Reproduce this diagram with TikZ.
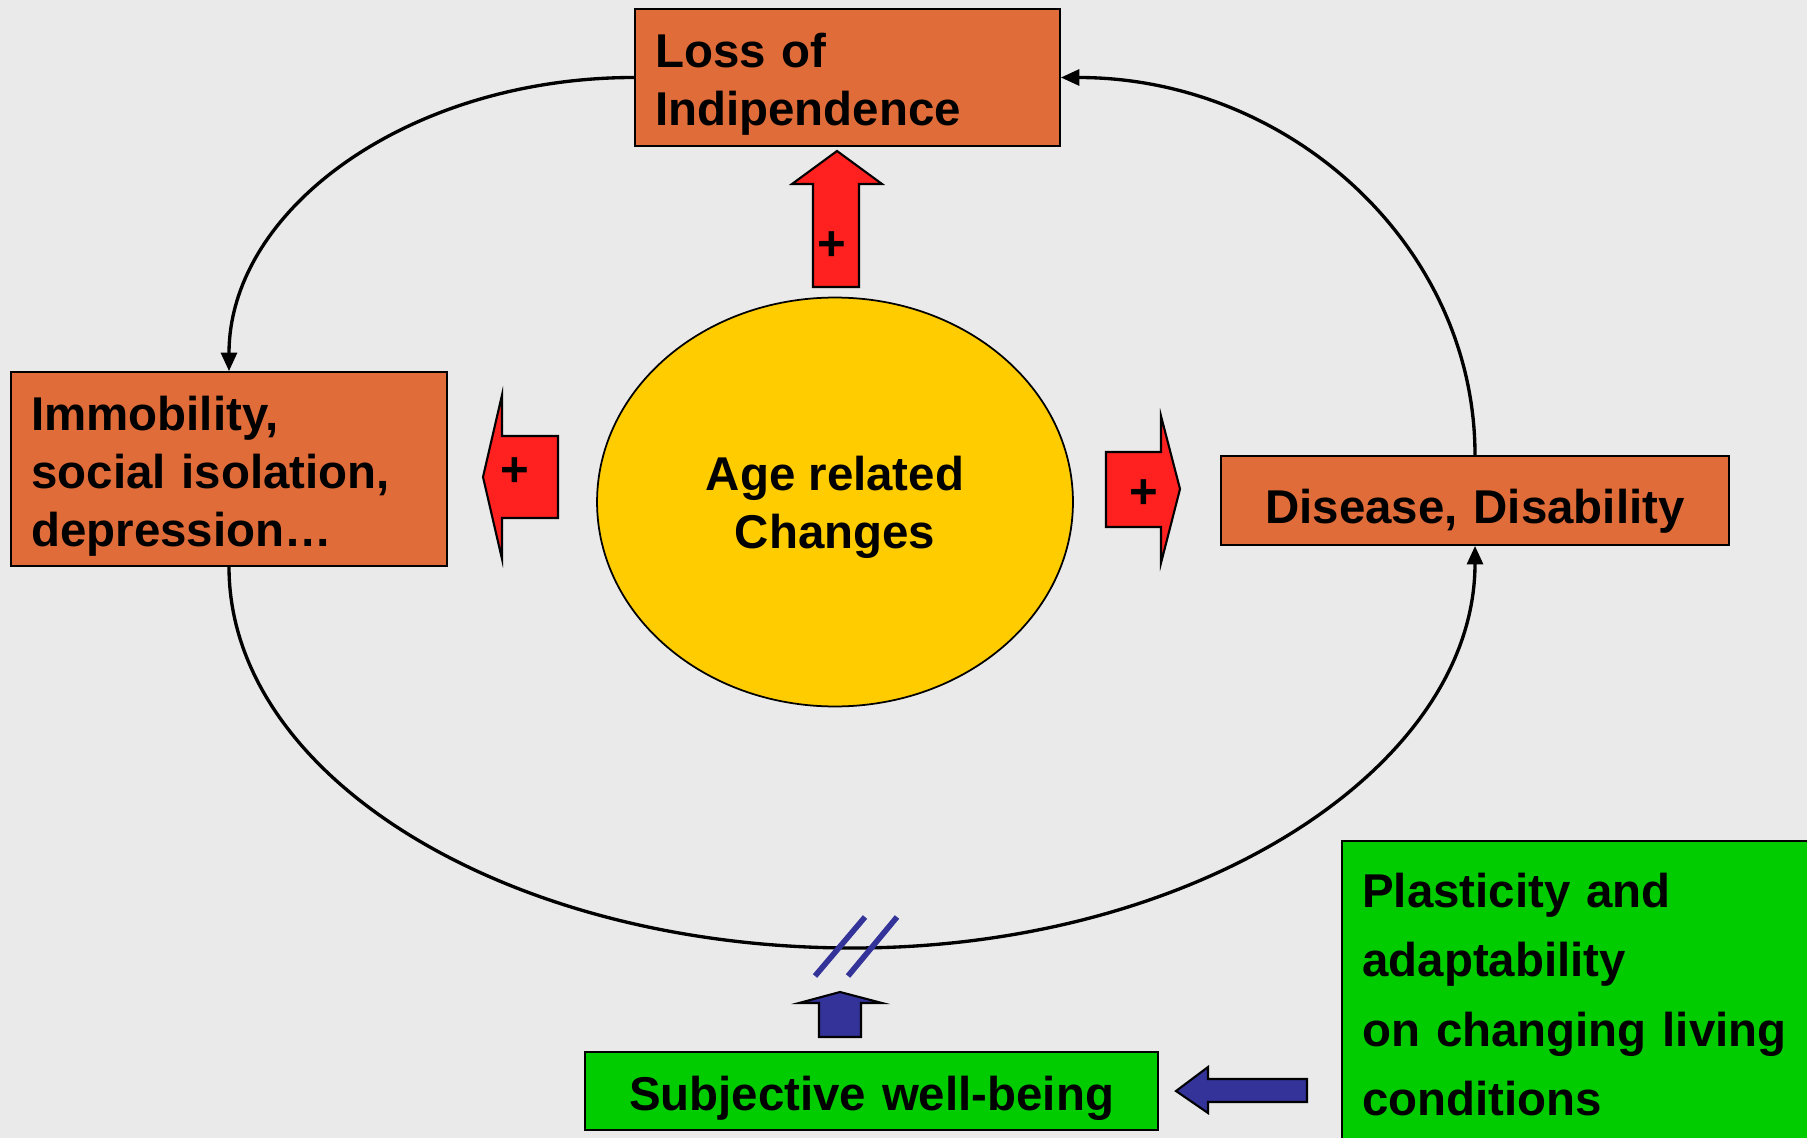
\documentclass[tikz,border=0pt]{standalone}
\usepackage{fontspec}
\setmainfont{Liberation Sans}
\usepackage{xcolor}
\usetikzlibrary{positioning,arrows.meta,shapes.geometric}
\definecolor{bggrey}{HTML}{EAEAEA}
\definecolor{boxorange}{HTML}{E06C3A}
\definecolor{arrred}{HTML}{FF2020}
\definecolor{hubyellow}{HTML}{FFCC00}
\definecolor{boxgreen}{HTML}{00CC00}
\definecolor{arrblue}{HTML}{333399}
\tikzset{
  % --- boxes and hub --------------------------------------------------------
  txt/.style={font=\bfseries\fontsize{27}{33}\selectfont},
  orangebox/.style={rectangle,draw=black,line width=1pt,fill=boxorange,txt,
                    inner xsep=0.4cm,inner ysep=0pt},
  greenbox/.style={rectangle,draw=black,line width=1pt,fill=boxgreen,txt,
                   inner xsep=0.4cm,inner ysep=0pt},
  hub/.style={ellipse,draw=black,line width=1pt,fill=hubyellow,txt,
              inner sep=0pt,align=center,text depth=-2.5pt},
  % --- the loop --------------------------------------------------------------
  cyc/.style={line width=1.9pt,-{Triangle[length=10.5pt,width=9pt]}},
  % --- block arrows ------------------------------------------------------------
  push/.style={fill=arrred,draw=black,line width=1.2pt,line join=miter},
  lift/.style={fill=arrblue,draw=black,line width=1.2pt,line join=miter},
  plus/.style={font=\bfseries\fontsize{28}{28}\selectfont,inner sep=0pt},
  slash/.style={arrblue,line width=3.2pt},
}
\begin{document}
\begin{tikzpicture}[x=0.02cm, y=-0.02cm]
  \path[use as bounding box, fill=bggrey] (0,0) rectangle (1807,1138);
  \clip (0,0) rectangle (1807,1138);

  % text height/depth pull the lines down to where the slide has them
  \node[orangebox,minimum width=8.5cm,minimum height=2.74cm,
        text width=7.7cm,align=left,text depth=30.7pt] (loss) at (847.5,77.5)
        {Loss of\\Indipendence};
  \node[orangebox,minimum width=8.71cm,minimum height=3.88cm,
        text width=7.91cm,align=left,text depth=63.7pt] (immob) at (229,469)
        {Immobility,\\social isolation,\\depression\ldots};
  \node[orangebox,minimum width=10.15cm,minimum height=1.78cm,
        text width=9.35cm,align=center,text height=26.3pt,text depth=0pt]
        (disease) at (1475,500.5) {Disease, Disability};
  \node[hub,minimum width=9.52cm,minimum height=8.18cm] (age) at (835,502)
        {Age related\\Changes};
  \node[greenbox,minimum width=11.46cm,minimum height=1.56cm,
        text width=10.66cm,align=center,text height=22.3pt,text depth=0pt]
        (wellbeing) at (871.5,1091) {Subjective well-being};
  \node[greenbox,minimum width=9.75cm,minimum height=6.14cm,
        text width=8.95cm,align=left,
        font=\bfseries\fontsize{27}{39.5}\selectfont] (plast) at (1586,994.5)
        {Plasticity and\\adaptability\\on changing living\\conditions};

  \coordinate (low) at (853,948);

  % loop round the hub
  \draw[cyc] (loss.west) .. controls +(-224,0) and +(0,-163) .. (immob.north);
  \draw[cyc] (disease.north) .. controls +(0,-209) and +(229,0) .. (loss.east);
  \draw[cyc] (immob.south) .. controls +(0,211) and +(-344,0) .. (low)
             .. controls +(343,0) and +(0,222) .. (disease.south);

  % red block arrows out of the hub
  \draw[push] (837,151) -- (882,184) -- (859,184) -- (859,287)
              -- (813,287) -- (813,184) -- (792,184) -- cycle;
  \draw[push] (483,477) -- (502,395) -- (502,436) -- (558,436)
              -- (558,518) -- (502,518) -- (502,559) -- cycle;
  \draw[push] (1106,452) -- (1161,452) -- (1161,416) -- (1180,489)
              -- (1161,563) -- (1161,527) -- (1106,527) -- cycle;
  \node[plus] (pup) at (832,246.5) {+};
  \node[plus] (pleft) at (515,472.5) {+};
  \node[plus] (pright) at (1144,494) {+};

  % blue block arrows and the break in the loop
  \draw[lift] (840,992) -- (882,1003) -- (861,1003) -- (861,1037)
              -- (819,1037) -- (819,1003) -- (799,1003) -- cycle;
  \draw[lift] (1176,1091) -- (1208,1067) -- (1208,1079) -- (1307,1079)
              -- (1307,1102) -- (1208,1102) -- (1208,1113) -- cycle;
  \draw[slash] (815,976) -- (865,917);
  \draw[slash] (848,976) -- (897,917);
\end{tikzpicture}
\end{document}
